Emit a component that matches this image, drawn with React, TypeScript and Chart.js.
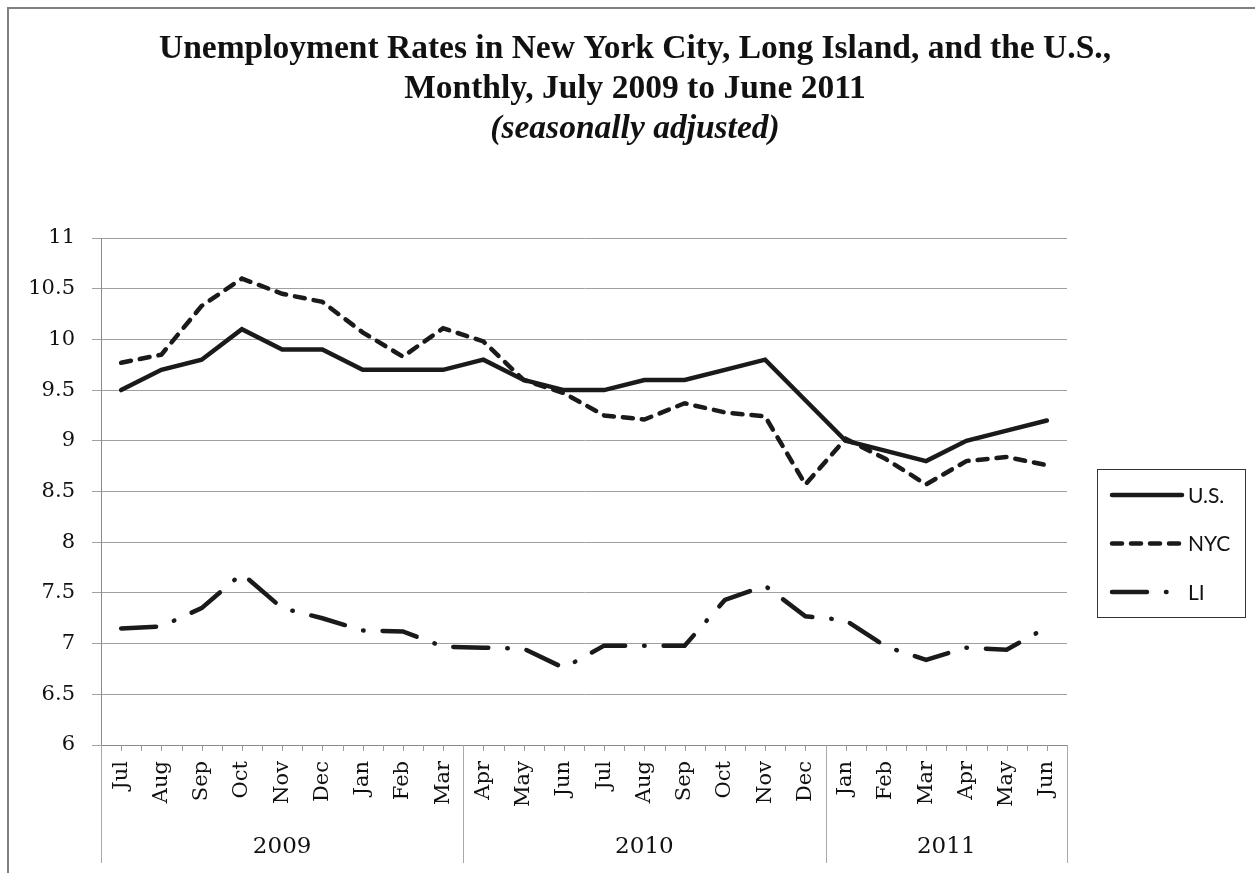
import React, { useEffect, useRef } from 'react';
import { Chart, registerables } from 'chart.js';

Chart.register(...registerables);

const months = ['Jul', 'Aug', 'Sep', 'Oct', 'Nov', 'Dec', 'Jan', 'Feb', 'Mar', 'Apr', 'May', 'Jun',
  'Jul', 'Aug', 'Sep', 'Oct', 'Nov', 'Dec', 'Jan', 'Feb', 'Mar', 'Apr', 'May', 'Jun'];
const yearLabels = ['2009', '2010', '2011'];
const yearSpans = [9, 9, 6];
const usRates = [9.5, 9.7, 9.8, 10.1, 9.9, 9.9, 9.7, 9.7, 9.7, 9.8, 9.6, 9.5,
  9.5, 9.6, 9.6, 9.7, 9.8, 9.4, 9.0, 8.9, 8.8, 9.0, 9.1, 9.2];
const nycRates = [9.77, 9.85, 10.33, 10.6, 10.45, 10.37, 10.07, 9.83, 10.11, 9.98, 9.6, 9.47,
  9.25, 9.21, 9.37, 9.28, 9.24, 8.57, 9.02, 8.82, 8.57, 8.8, 8.84, 8.76];
const liRates = [7.15, 7.17, 7.35, 7.69, 7.35, 7.25, 7.13, 7.12, 6.97, 6.96, 6.95, 6.76,
  6.98, 6.98, 6.98, 7.43, 7.57, 7.27, 7.23, 6.97, 6.84, 6.96, 6.94, 7.16];
const seriesNames = ['U.S.', 'NYC', 'LI'];
const yMin = 6;
const yMax = 11;
const yStep = 0.5;

const titleLines = ['Unemployment Rates in New York City, Long Island, and the U.S.,', 'Monthly, July 2009 to June 2011'];
const subtitleText = '(seasonally adjusted)';

const W = 1255;
const H = 873;
const LINE = '#1a1a1a';

const framePlugin = {
  id: 'frame',
  beforeDraw(chart: any) {
    const ctx = chart.ctx;
    ctx.save();
    ctx.fillStyle = '#ffffff';
    ctx.fillRect(0, 0, chart.width, chart.height);
    ctx.strokeStyle = '#808080';
    ctx.lineWidth = 2;
    ctx.beginPath();
    ctx.moveTo(8, chart.height);
    ctx.lineTo(8, 8);
    ctx.lineTo(chart.width, 8);
    ctx.stroke();
    ctx.restore();
  },
};

const titlePlugin = {
  id: 'titleBlock',
  afterDraw(chart: any) {
    const ctx = chart.ctx;
    const cx = 635;
    ctx.save();
    ctx.fillStyle = '#111';
    ctx.textAlign = 'center';
    ctx.textBaseline = 'middle';
    ctx.font = 'bold 33.5px "Liberation Serif"';
    titleLines.forEach((t, i) => ctx.fillText(t, cx, 49 + i * 40));
    ctx.font = 'italic bold 33.5px "Liberation Serif"';
    ctx.fillText(subtitleText, cx, 129);
    ctx.restore();
  },
};

const multiAxisPlugin = {
  id: 'multiAxis',
  afterDraw(chart: any) {
    const ctx = chart.ctx;
    const xs = chart.scales.x;
    const area = chart.chartArea;
    const step = xs.getPixelForValue(1) - xs.getPixelForValue(0);
    const half = step / 2;
    const axisY = area.bottom;
    const lowY = chart.height - 10;
    ctx.save();
    ctx.strokeStyle = '#9a9a9a';
    ctx.lineWidth = 1;
    ctx.beginPath();
    for (let i = 0; i < months.length; i++) {
      const c = Math.round(xs.getPixelForValue(i)) + 0.5;
      ctx.moveTo(c, axisY);
      ctx.lineTo(c, axisY + 6);
      const b = Math.round(xs.getPixelForValue(i) + half) + 0.5;
      ctx.moveTo(b, axisY);
      ctx.lineTo(b, axisY + 6);
    }
    ctx.stroke();
    ctx.strokeStyle = '#a8a8a8';
    ctx.beginPath();
    let idx = 0;
    const bounds: number[] = [xs.getPixelForValue(0) - half];
    for (let g = 0; g < yearSpans.length; g++) {
      idx += yearSpans[g];
      bounds.push(xs.getPixelForValue(idx - 1) + half);
    }
    bounds.forEach((b) => {
      const xb = Math.round(b) + 0.5;
      ctx.moveTo(xb, axisY);
      ctx.lineTo(xb, lowY);
    });
    ctx.stroke();
    ctx.fillStyle = '#111';
    ctx.font = '23px "DejaVu Serif"';
    ctx.textAlign = 'center';
    ctx.textBaseline = 'middle';
    for (let g = 0; g < yearLabels.length; g++) {
      ctx.fillText(yearLabels[g], (bounds[g] + bounds[g + 1]) / 2, 847);
    }
    ctx.restore();
  },
};

const legendPlugin = {
  id: 'boxLegend',
  afterDraw(chart: any) {
    const ctx = chart.ctx;
    const area = chart.chartArea;
    const bx = area.right + 30;
    const by = 469;
    const bw = 148;
    const bh = 148;
    ctx.save();
    ctx.strokeStyle = '#333';
    ctx.lineWidth = 1;
    ctx.strokeRect(Math.round(bx) + 0.5, by + 0.5, bw, bh);
    chart.data.datasets.forEach((ds: any, i: number) => {
      const y = by + 26 + i * 48.5;
      ctx.strokeStyle = ds.borderColor;
      ctx.lineWidth = ds.borderWidth;
      ctx.lineCap = 'round';
      ctx.setLineDash(ds.borderDash || []);
      ctx.beginPath();
      ctx.moveTo(bx + 15, y);
      ctx.lineTo(bx + 85, y);
      ctx.stroke();
      ctx.setLineDash([]);
      ctx.fillStyle = '#111';
      ctx.font = '21px Lato';
      ctx.textAlign = 'left';
      ctx.textBaseline = 'middle';
      ctx.fillText(ds.label, bx + 91, y + 1);
    });
    ctx.restore();
  },
};

export default function App() {
  const ref = useRef<HTMLCanvasElement | null>(null);
  useEffect(() => {
    document.body.style.margin = '0';
    const canvas = ref.current;
    if (!canvas) return;
    const chart = new Chart(canvas, {
      type: 'line',
      data: {
        labels: months,
        datasets: [
          {
            label: seriesNames[0],
            data: usRates,
            borderColor: LINE,
            borderWidth: 4.5,
            pointRadius: 0,
            tension: 0,
            borderCapStyle: 'round',
            fill: false,
          },
          {
            label: seriesNames[1],
            data: nycRates,
            borderColor: LINE,
            borderWidth: 4.5,
            borderDash: [10, 9],
            borderCapStyle: 'round',
            pointRadius: 0,
            tension: 0,
            fill: false,
          },
          {
            label: seriesNames[2],
            data: liRates,
            borderColor: LINE,
            borderWidth: 4.5,
            borderDash: [35, 19, 0.5, 19],
            borderCapStyle: 'round',
            pointRadius: 0,
            tension: 0,
            fill: false,
          },
        ],
      },
      options: {
        responsive: false,
        animation: false,
        devicePixelRatio: 1,
        layout: { padding: { top: 238, left: 0, right: 188, bottom: 0 } },
        plugins: {
          legend: { display: false },
          tooltip: { enabled: false },
          title: { display: false },
        },
        scales: {
          x: {
            type: 'category',
            offset: true,
            grid: { display: false, drawTicks: false },
            border: { display: true, color: '#8a8a8a', width: 1 },
            ticks: {
              color: '#111',
              font: { family: '"DejaVu Serif"', size: 21 },
              minRotation: 90,
              maxRotation: 90,
              autoSkip: false,
              padding: 16,
            },
            afterFit(scale: any) {
              scale.height = 128;
            },
          },
          y: {
            min: yMin,
            max: yMax,
            grid: { color: '#a0a0a0', lineWidth: 1, tickLength: 9, drawTicks: true },
            border: { display: true, color: '#8a8a8a', width: 1 },
            ticks: {
              stepSize: yStep,
              color: '#111',
              font: { family: '"DejaVu Serif"', size: 21 },
              padding: 17,
              callback: (v: any) => String(Number(v)),
            },
            afterFit(scale: any) {
              scale.width = 101;
            },
          },
        },
      },
      plugins: [framePlugin, titlePlugin, multiAxisPlugin, legendPlugin],
    } as any);
    return () => chart.destroy();
  }, []);
  return (
    <div style={{ position: 'absolute', left: 0, top: 0, width: W, height: H }}>
      <canvas ref={ref} width={W} height={H} style={{ width: W, height: H, display: 'block' }} />
    </div>
  );
}
